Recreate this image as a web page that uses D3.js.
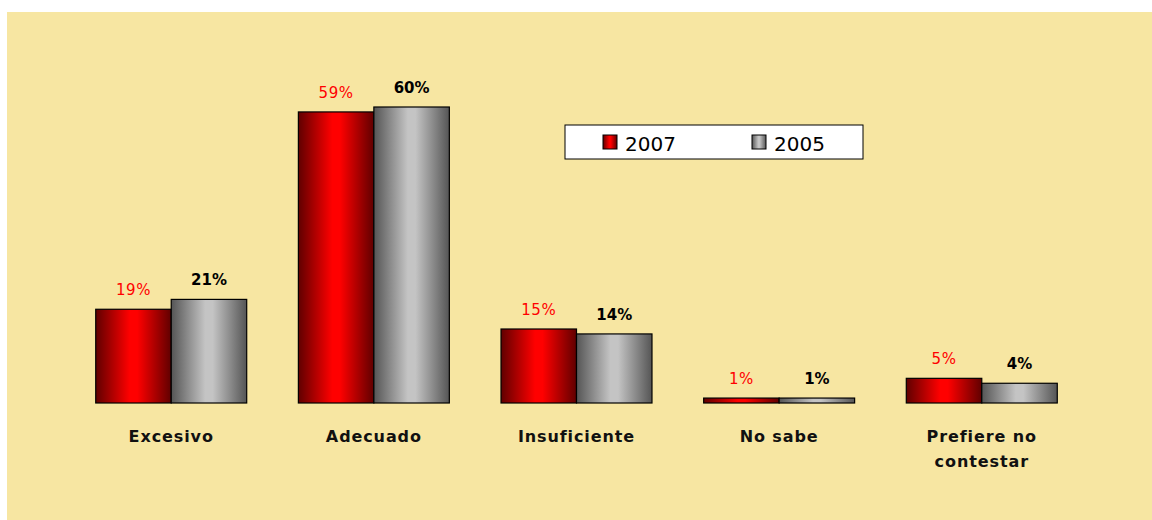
<!DOCTYPE html>
<html><head><meta charset="utf-8">
<script src="https://cdn.jsdelivr.net/npm/d3@7"></script>
<style>body{margin:0;background:#fff;}svg{display:block;}</style>
</head><body>
<svg id="c" width="1152" height="520"></svg>
<script>
const categories = ["Excesivo", "Adecuado", "Insuficiente", "No sabe", "Prefiere no contestar"];
const categoryLines = [["Excesivo"], ["Adecuado"], ["Insuficiente"], ["No sabe"], ["Prefiere no", "contestar"]];
const seriesNames = ["2007", "2005"];
const values2007 = [19, 59, 15, 1, 5];
const values2005 = [21, 60, 14, 1, 4];
const seriesValues = [values2007, values2005];
const labelColors = ["#ff0000", "#000000"];

const svg = d3.select("#c");
const defs = svg.append("defs");
function grad(id, edge, mid) {
  const g = defs.append("linearGradient").attr("id", id).attr("x1", "0%").attr("x2", "100%").attr("y1", "0%").attr("y2", "0%");
  g.append("stop").attr("offset", "0%").attr("stop-color", edge);
  g.append("stop").attr("offset", "45%").attr("stop-color", mid);
  g.append("stop").attr("offset", "55%").attr("stop-color", mid);
  g.append("stop").attr("offset", "100%").attr("stop-color", edge);
}
grad("gRed", "#600000", "#ff0000");
grad("gGray", "#555555", "#c4c4c4");
const fills = ["url(#gRed)", "url(#gGray)"];

svg.append("rect").attr("x", 7).attr("y", 12).attr("width", 1145).attr("height", 508).attr("fill", "#f7e6a2");

const x0 = d3.scaleBand().domain(categories).range([70, 1083]).paddingInner(0.255).paddingOuter(0.127);
const x1 = d3.scaleBand().domain(seriesNames).range([0, x0.bandwidth()]);
const y = d3.scaleLinear().domain([0, 60]).range([403, 107]);

const groups = svg.selectAll("g.cat").data(categories).join("g").attr("class", "cat")
  .attr("transform", d => `translate(${x0(d)},0)`);

seriesNames.forEach((s, si) => {
  groups.append("rect")
    .attr("x", x1(s))
    .attr("y", (d, i) => y(seriesValues[si][i]))
    .attr("width", x1.bandwidth())
    .attr("height", (d, i) => y(0) - y(seriesValues[si][i]))
    .attr("fill", fills[si])
    .attr("stroke", "#000").attr("stroke-width", 1.2);
  groups.append("text")
    .attr("x", x1(s) + x1.bandwidth() / 2)
    .attr("y", (d, i) => y(seriesValues[si][i]) - 14)
    .attr("text-anchor", "middle")
    .attr("font-family", "'DejaVu Sans', Verdana, sans-serif")
    .attr("font-weight", si === 0 ? "normal" : "bold")
    .attr("font-size", 15)
    .attr("letter-spacing", si === 0 ? 0.6 : 0)
    .attr("fill", labelColors[si])
    .text((d, i) => seriesValues[si][i] + "%");
});

groups.each(function(d, i) {
  const t = d3.select(this).append("text")
    .attr("text-anchor", "middle")
    .attr("font-family", "'DejaVu Sans', Verdana, sans-serif")
    .attr("font-weight", "bold")
    .attr("font-size", 16)
    .attr("letter-spacing", 0.9)
    .attr("fill", "#111");
  categoryLines[i].forEach((line, li) => {
    t.append("tspan").attr("x", x0.bandwidth() / 2).attr("y", 442 + li * 25).text(line);
  });
});

// legend
const lg = svg.append("g");
lg.append("rect").attr("x", 565).attr("y", 125).attr("width", 298).attr("height", 34).attr("fill", "#fff").attr("stroke", "#000").attr("stroke-width", 1);
const lx = [603, 752];
seriesNames.forEach((s, si) => {
  lg.append("rect").attr("x", lx[si]).attr("y", 135).attr("width", 14).attr("height", 14).attr("fill", fills[si]).attr("stroke", "#000").attr("stroke-width", 1);
  lg.append("text").attr("x", lx[si] + 22).attr("y", 151).attr("font-family", "'DejaVu Sans', Verdana, sans-serif").attr("font-size", 20).attr("fill", "#000").text(s);
});
</script>
</body></html>
